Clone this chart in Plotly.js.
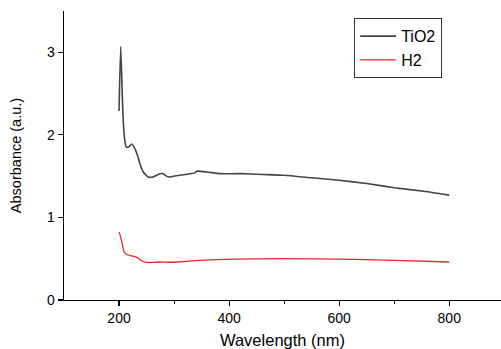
<!DOCTYPE html>
<html>
<head>
<meta charset="utf-8">
<script src="https://cdn.plot.ly/plotly-3.0.1.min.js"></script>
<style>html,body{margin:0;padding:0;background:#fff;}#chart{width:501px;height:349px;}</style>
</head>
<body>
<div id="chart"></div>
<script>
const tio2Wavelength = [200, 203, 206.6, 209, 212.7, 217, 223, 229, 234, 238, 244, 253, 262, 268, 274.5, 280, 286, 293, 300, 320, 338, 341, 360, 384, 420, 460, 500, 550, 600, 650, 700, 750, 800];
const tio2Absorbance = [2.29, 3.07, 2.34, 2.02, 1.86, 1.85, 1.89, 1.83, 1.74, 1.65, 1.55, 1.49, 1.49, 1.51, 1.53, 1.53, 1.50, 1.49, 1.50, 1.52, 1.54, 1.56, 1.55, 1.53, 1.53, 1.52, 1.51, 1.48, 1.45, 1.41, 1.36, 1.32, 1.27];
const h2Wavelength = [200, 200.5, 205, 209, 213, 217, 229, 236, 241, 250, 262, 274, 290, 305, 347, 408, 500, 600, 700, 800];
const h2Absorbance = [0.81, 0.82, 0.705, 0.585, 0.555, 0.545, 0.525, 0.50, 0.475, 0.455, 0.455, 0.46, 0.457, 0.46, 0.48, 0.495, 0.50, 0.495, 0.48, 0.46];
const seriesNames = ["TiO2", "H2"];
const xTicks = [200, 400, 600, 800];
const xMinorTicks = [300, 500, 700];
const yTicks = [0, 1, 2, 3];

const font = {family: "Liberation Sans, Arial, sans-serif", color: "#000"};
const data = [
  {x: tio2Wavelength, y: tio2Absorbance, name: seriesNames[0], type: "scatter", mode: "lines",
   line: {color: "#444444", width: 1.6, shape: "spline", smoothing: 0.5}},
  {x: h2Wavelength, y: h2Absorbance, name: seriesNames[1], type: "scatter", mode: "lines",
   line: {color: "#e8282a", width: 1.3, shape: "spline", smoothing: 0.5}}
];
const layout = {
  width: 501, height: 349,
  margin: {l: 64, r: 0, t: 11, b: 49},
  paper_bgcolor: "#fff", plot_bgcolor: "#fff",
  font: Object.assign({size: 13}, font),
  showlegend: true,
  legend: {x: 0.664, y: 0.975, xanchor: "left", yanchor: "top",
    bordercolor: "#333", borderwidth: 1, bgcolor: "#fff",
    font: Object.assign({size: 16}, font), tracegroupgap: 0,
    itemwidth: 36},
  xaxis: {
    range: [100, 894], tickvals: xTicks, ticktext: xTicks.map(String),
    showgrid: false, zeroline: false, showline: true, linecolor: "#000", linewidth: 1.3,
    ticks: "outside", ticklen: 5, tickwidth: 1.2, tickcolor: "#000",
    minor: {tickvals: xMinorTicks, ticks: "outside", ticklen: 3, tickwidth: 1, tickcolor: "#000"},
    tickfont: Object.assign({size: 14}, font),
    title: {text: "Wavelength (nm)", font: Object.assign({size: 16.5}, font), standoff: 9}
  },
  yaxis: {
    range: [0, 3.5], tickvals: yTicks, ticktext: yTicks.map(String),
    showgrid: false, zeroline: false, showline: true, linecolor: "#000", linewidth: 1.3,
    ticks: "outside", ticklen: 5, tickwidth: 1.2, tickcolor: "#000",
    tickfont: Object.assign({size: 14}, font),
    title: {text: "Absorbance (a.u.)", font: Object.assign({size: 14.5}, font), standoff: 22}
  }
};
Plotly.newPlot("chart", data, layout, {displayModeBar: false, staticPlot: true});
</script>
</body>
</html>
